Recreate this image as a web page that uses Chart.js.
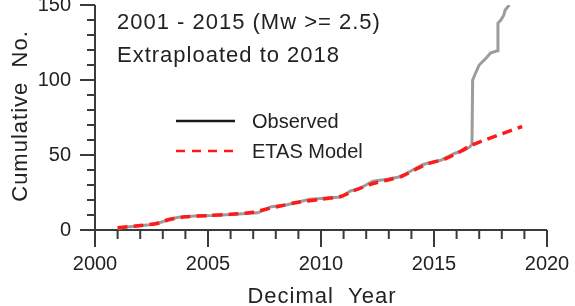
<!DOCTYPE html>
<html>
<head>
<meta charset="utf-8">
<script src="https://cdn.jsdelivr.net/npm/chart.js@4/dist/chart.umd.min.js"></script>
<style>
    html, body { margin: 0; padding: 0; background: #ffffff; }
    #wrap { width: 575px; height: 306px; }
</style>
</head>
<body>
<div id="wrap"><canvas id="chart" width="575" height="306"></canvas></div>
<script>
// observed cumulative count
const observedYears = [
    2001.0, 2001.4, 2001.9, 2002.4, 2002.7, 2003.0, 2003.2, 2003.7, 2004.4, 2005.2,
    2006.2, 2006.7, 2007.2, 2007.5, 2007.8, 2008.4, 2009.1, 2009.5, 2010.0, 2010.9,
    2011.3, 2011.7, 2012.1, 2012.3, 2013.0, 2013.5, 2014.0, 2014.5, 2014.7, 2015.3,
    2015.9, 2016.3, 2016.6, 2016.68, 2016.71, 2016.85, 2017.0, 2017.3, 2017.5, 2017.8,
    2017.83, 2017.96, 2018.08, 2018.15, 2018.33,
];
const observedCounts = [
    1, 2, 2.7, 3.5, 4.5, 5.5, 7, 8.5, 9.3, 9.6,
    10.5, 11, 11.5, 13.5, 15.5, 16.5, 19, 20.5, 21, 22,
    26, 27.5, 31, 32.5, 34, 35.5, 39.5, 43.5, 44.5, 46.5,
    51, 53, 55.5, 57.5, 100, 105, 110, 114.5, 118, 119.5,
    138, 140, 143, 146.7, 150,
];

// ETAS model, fitted 2001-2015 and extrapolated to 2018
const etasYears = [
    2001.0, 2002.0, 2002.8, 2003.3, 2004.0, 2005.0, 2006.0, 2007.0, 2007.6, 2008.2,
    2009.0, 2010.0, 2010.9, 2011.5, 2012.3, 2013.0, 2013.6, 2014.2, 2014.7, 2015.5,
    2016.0, 2016.66, 2018.9,
];
const etasCounts = [
    1.5, 3, 4.5, 7, 8.8, 9.6, 10.5, 11.8, 14, 16,
    18.5, 20.5, 22.5, 26.5, 31, 33.5, 36, 40.5, 44, 47.5,
    51, 56.5, 69,
];

const xTicks = [2000, 2005, 2010, 2015, 2020];
const yTicks = [0, 50, 100, 150];

const FONT = '"Liberation Sans", Arial, sans-serif';
const INK = '#222222';
const AXIS = '#3a3a3a';

const toPoints = (xs, ys) => xs.map((x, i) => ({ x, y: ys[i] }));

function drawText(ctx, text, x, y, size, spacing) {
    ctx.font = `${size}px ${FONT}`;
    ctx.letterSpacing = `${spacing}px`;
    ctx.fillText(text, x, y);
}

const axesPlugin = {
    id: 'axes',
    beforeDatasetsDraw(chart) {
        const { ctx, chartArea: area, scales: { x, y } } = chart;

        ctx.save();
        ctx.strokeStyle = AXIS;
        ctx.lineWidth = 2;
        ctx.beginPath();
        ctx.moveTo(area.left, area.top);
        ctx.lineTo(area.left, area.bottom);
        ctx.lineTo(area.right, area.bottom);
        ctx.stroke();

        ctx.beginPath();
        for (let yr = 2000; yr <= 2020; yr++) {
            const px = x.getPixelForValue(yr);
            const len = yr % 5 === 0 ? 17 : 9;
            ctx.moveTo(px, area.bottom);
            ctx.lineTo(px, area.bottom + len);
        }
        for (let v = 0; v <= 150; v += 10) {
            const py = y.getPixelForValue(v);
            const len = v % 50 === 0 ? 15 : 8;
            ctx.moveTo(area.left, py);
            ctx.lineTo(area.left - len, py);
        }
        ctx.stroke();
        ctx.restore();
    },
    afterDraw(chart) {
        const { ctx } = chart;

        ctx.save();
        ctx.fillStyle = INK;
        ctx.textAlign = 'left';
        ctx.textBaseline = 'alphabetic';
        drawText(ctx, '2001 - 2015 (Mw >= 2.5)', 117, 29, 22, 1);
        drawText(ctx, 'Extraploated to 2018', 117, 62, 22, 1);

        // legend
        ctx.lineWidth = 2.5;
        ctx.strokeStyle = '#1a1a1a';
        ctx.beginPath();
        ctx.moveTo(176, 121);
        ctx.lineTo(235, 121);
        ctx.stroke();
        ctx.strokeStyle = '#ff1a1a';
        ctx.setLineDash([9, 7]);
        ctx.beginPath();
        ctx.moveTo(176, 151);
        ctx.lineTo(235, 151);
        ctx.stroke();
        ctx.setLineDash([]);
        drawText(ctx, 'Observed', 252, 128, 20, 0);
        drawText(ctx, 'ETAS Model', 252, 158, 20, 0);

        // axis titles
        ctx.textAlign = 'center';
        drawText(ctx, 'Decimal  Year', 322, 303, 22, 1);
        ctx.translate(27, 116);
        ctx.rotate(-Math.PI / 2);
        drawText(ctx, 'Cumulative  No.', 0, 0, 22, 1);
        ctx.restore();
    },
};

new Chart(document.getElementById('chart'), {
    type: 'line',
    data: {
        datasets: [
            {
                label: 'ETAS Model',
                data: toPoints(etasYears, etasCounts),
                borderColor: '#ff1a1a',
                borderWidth: 3.5,
                borderDash: [10, 6],
                pointRadius: 0,
                tension: 0.3,
                order: 0,
            },
            {
                label: 'Observed',
                data: toPoints(observedYears, observedCounts),
                borderColor: '#9c9c9c',
                borderWidth: 3,
                pointRadius: 0,
                tension: 0,
                order: 1,
            },
        ],
    },
    options: {
        responsive: false,
        animation: false,
        layout: {
            padding: { top: 5, right: 28, bottom: 0, left: 0 },
        },
        plugins: {
            legend: { display: false },
            tooltip: { enabled: false },
        },
        scales: {
            x: {
                type: 'linear',
                min: 2000,
                max: 2020,
                afterBuildTicks: (scale) => {
                    scale.ticks = xTicks.map((value) => ({ value }));
                },
                afterFit: (scale) => {
                    scale.height = 76;
                    scale.paddingLeft = 0;
                    scale.paddingRight = 0;
                },
                grid: { display: false, drawTicks: false },
                border: { display: false },
                ticks: {
                    color: INK,
                    padding: 22,
                    maxRotation: 0,
                    font: { family: FONT, size: 20 },
                    callback: (value) => String(value),
                },
            },
            y: {
                min: 0,
                max: 150,
                afterBuildTicks: (scale) => {
                    scale.ticks = yTicks.map((value) => ({ value }));
                },
                afterFit: (scale) => {
                    scale.width = 95;
                    scale.paddingTop = 0;
                    scale.paddingBottom = 0;
                },
                grid: { display: false, drawTicks: false },
                border: { display: false },
                ticks: {
                    color: INK,
                    padding: 24,
                    font: { family: FONT, size: 20 },
                },
            },
        },
    },
    plugins: [axesPlugin],
});
</script>
</body>
</html>
